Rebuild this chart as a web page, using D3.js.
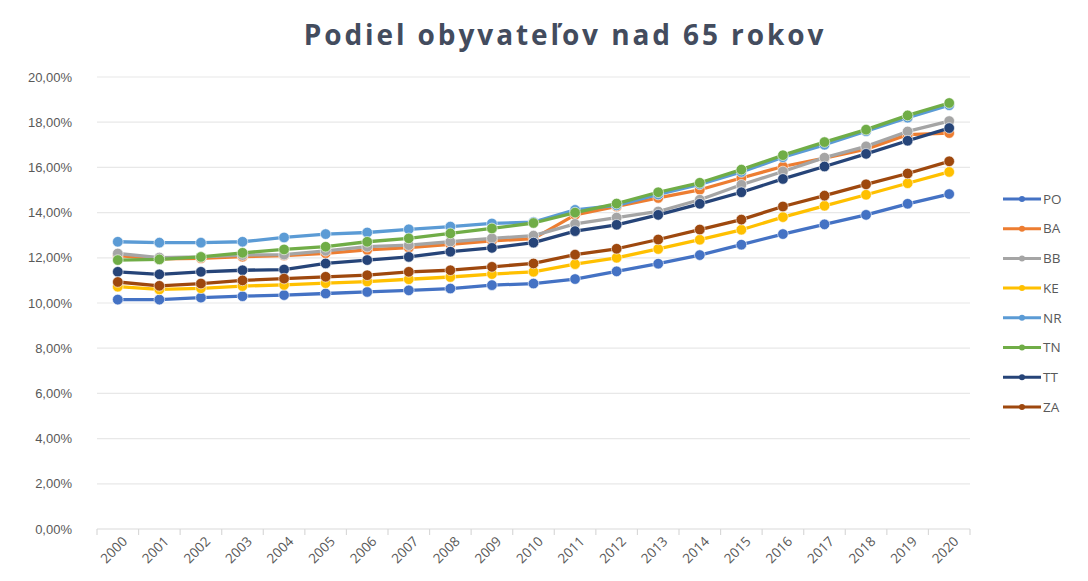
<!DOCTYPE html>
<html>
<head>
<meta charset="utf-8">
<script src="https://cdn.jsdelivr.net/npm/d3@7"></script>
<style>
  body { margin: 0; background: #fff; }
  svg { display: block; font-family: "Open Sans", "Noto Sans", sans-serif; }
</style>
</head>
<body>
<div id="container"></div>
<script>
// roky
let years = ["2000","2001","2002","2003","2004","2005","2006","2007","2008","2009","2010",
             "2011","2012","2013","2014","2015","2016","2017","2018","2019","2020"]

// podiel v % podla krajov
let PO = [10.15,10.15,10.24,10.30,10.35,10.42,10.49,10.56,10.64,10.79,10.86,11.06,11.40,11.74,12.12,12.58,13.05,13.48,13.90,14.39,14.82]
let BA = [12.10,11.95,11.98,12.05,12.10,12.20,12.35,12.45,12.60,12.75,12.85,13.90,14.27,14.65,15.01,15.53,16.04,16.41,16.81,17.45,17.52]
let BB = [12.19,12.01,12.04,12.12,12.14,12.31,12.49,12.56,12.71,12.86,12.98,13.50,13.78,14.05,14.57,15.23,15.82,16.43,16.93,17.59,18.05]
let KE = [10.72,10.60,10.65,10.75,10.80,10.88,10.95,11.05,11.15,11.28,11.38,11.72,12.00,12.39,12.80,13.24,13.80,14.30,14.79,15.30,15.80]
let NR = [12.71,12.67,12.67,12.71,12.90,13.05,13.12,13.26,13.38,13.52,13.58,14.12,14.32,14.80,15.25,15.80,16.45,17.00,17.60,18.20,18.75]
let TN = [11.90,11.93,12.04,12.22,12.37,12.49,12.71,12.86,13.08,13.30,13.54,14.00,14.40,14.90,15.32,15.90,16.54,17.12,17.67,18.30,18.85]
let TT = [11.38,11.27,11.38,11.45,11.48,11.75,11.90,12.04,12.27,12.44,12.67,13.18,13.46,13.90,14.39,14.90,15.49,16.04,16.60,17.18,17.74]
let ZA = [10.93,10.76,10.86,11.00,11.08,11.16,11.23,11.38,11.45,11.60,11.75,12.14,12.40,12.81,13.25,13.69,14.27,14.75,15.25,15.73,16.27]

let yTicks = [0, 2, 4, 6, 8, 10, 12, 14, 16, 18, 20]

let series = [
    {name: "PO", values: PO, color: "#4472c4"},
    {name: "BA", values: BA, color: "#ed7d31"},
    {name: "BB", values: BB, color: "#a5a5a5"},
    {name: "KE", values: KE, color: "#ffc000"},
    {name: "NR", values: NR, color: "#5b9bd5"},
    {name: "TN", values: TN, color: "#70ad47"},
    {name: "TT", values: TT, color: "#264478"},
    {name: "ZA", values: ZA, color: "#9e480e"}
]

let width = 1088
let height = 581
let margin = {top: 77, right: 118, bottom: 52, left: 97}

let svg = d3.select("#container")
    .append("svg")
    .attr("width", width)
    .attr("height", height)

let x = d3.scaleBand()
    .domain(years)
    .range([margin.left, width - margin.right])

let y = d3.scaleLinear()
    .domain([0, 20])
    .range([height - margin.bottom, margin.top])

let cx = d => x(d) + x.bandwidth() / 2

// title
svg.append("text")
    .attr("x", 565)
    .attr("y", 45)
    .attr("text-anchor", "middle")
    .attr("fill", "#434c5e")
    .attr("font-size", 28)
    .attr("font-weight", "bold")
    .attr("letter-spacing", 2.9)
    .text("Podiel obyvateľov nad 65 rokov")

// grid lines
svg.append("g")
    .selectAll("line")
    .data(yTicks.filter(t => t > 0))
    .join("line")
        .attr("x1", margin.left)
        .attr("x2", width - margin.right)
        .attr("y1", d => y(d))
        .attr("y2", d => y(d))
        .attr("stroke", "#e8e8e8")
        .attr("stroke-width", 1.2)

// y axis labels
svg.append("g")
    .attr("transform", `translate(${margin.left},0)`)
    .call(d3.axisLeft(y).tickValues(yTicks).tickSize(0).tickPadding(25)
        .tickFormat(d => d3.format(".2f")(d).replace(".", ",") + "%"))
    .call(g => g.select(".domain").remove())
    .call(g => g.selectAll("text")
        .attr("fill", "#595959")
        .attr("font-size", 13))

// x axis
let xAxis = svg.append("g")
    .attr("transform", `translate(0,${y(0)})`)

xAxis.append("line")
    .attr("x1", margin.left)
    .attr("x2", width - margin.right)
    .attr("stroke", "#d9d9d9")
    .attr("stroke-width", 1.2)

xAxis.selectAll(".tk")
    .data(years.map(d => x(d)).concat([width - margin.right]))
    .join("line")
        .attr("class", "tk")
        .attr("x1", d => d)
        .attr("x2", d => d)
        .attr("y1", 0)
        .attr("y2", 6)
        .attr("stroke", "#d9d9d9")
        .attr("stroke-width", 1.2)

xAxis.selectAll("text")
    .data(years)
    .join("text")
        .attr("transform", d => `translate(${cx(d) + 7},${10}) rotate(-45)`)
        .attr("text-anchor", "end")
        .attr("dy", "0.35em")
        .attr("fill", "#595959")
        .attr("font-size", 13.5)
        .text(d => d)

// lines
let line = d3.line()
    .x((d, i) => cx(years[i]))
    .y(d => y(d))

let plot = svg.append("g")

series.forEach(s => {
    let g = plot.append("g")
    g.append("path")
        .datum(s.values)
        .attr("fill", "none")
        .attr("stroke", s.color)
        .attr("stroke-width", 3.3)
        .attr("stroke-linejoin", "round")
        .attr("d", line)
    g.selectAll("circle")
        .data(s.values)
        .join("circle")
            .attr("cx", (d, i) => cx(years[i]))
            .attr("cy", d => y(d))
            .attr("r", 5.3)
            .attr("fill", s.color)
            .attr("stroke", "#ffffff")
            .attr("stroke-opacity", 0.6)
            .attr("stroke-width", 1)
})

// legend
let legend = svg.append("g")
    .attr("transform", "translate(1003,199)")

let item = legend.selectAll("g")
    .data(series)
    .join("g")
        .attr("transform", (d, i) => `translate(0,${i * 29.7})`)

item.append("line")
    .attr("x1", 0)
    .attr("x2", 38)
    .attr("stroke", d => d.color)
    .attr("stroke-width", 3)

item.append("circle")
    .attr("cx", 19)
    .attr("r", 3)
    .attr("fill", d => d.color)

item.append("text")
    .attr("x", 40)
    .attr("dy", "0.35em")
    .attr("fill", "#595959")
    .attr("font-size", 13.5)
    .text(d => d.name)
</script>
</body>
</html>
